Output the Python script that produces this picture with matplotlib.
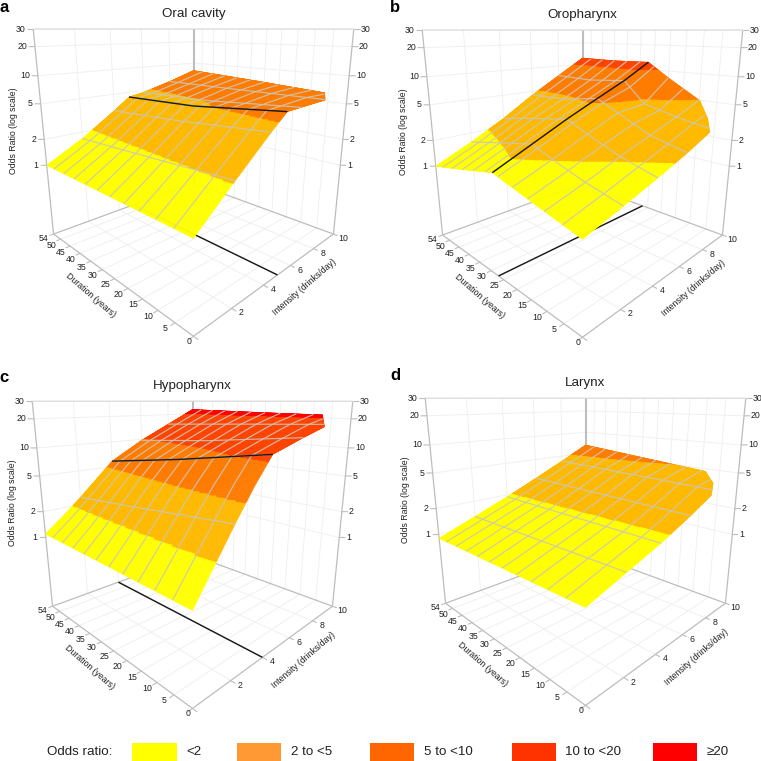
import numpy as np
import matplotlib
matplotlib.use("Agg")
import matplotlib.pyplot as plt
from matplotlib.patches import Rectangle
from mpl_toolkits.mplot3d import proj3d

plt.rcParams['font.family'] = ['Liberation Sans', 'DejaVu Sans']

# ---- data: odds ratios (rows = intensity, columns = duration)
titles = ["Oral cavity", "Oropharynx", "Hypopharynx", "Larynx"]
letters = ["a", "b", "c", "d"]

int_a = [0, 2, 4, 5, 6, 8, 10]
dur_a = [0, 27, 54]
or_a = [[1.00, 1.00, 1.00],
        [2.10, 1.86, 1.67],
        [4.30, 3.55, 3.12],
        [6.00, 4.73, 4.35],
        [6.10, 5.07, 4.70],
        [6.30, 6.10, 5.96],
        [6.00, 6.92, 7.83]]
cut_int_a = [7.9, 10]
cut_dur_a = [0, 6]

int_b = [0, 2, 4, 6, 8, 10]
dur_b = [0, 10, 20, 27, 40, 54]
or_b = [[1.00, 1.20, 1.45, 1.66, 1.29, 1.00],
        [1.30, 1.58, 2.04, 2.50, 2.00, 1.56],
        [1.70, 2.14, 2.95, 3.77, 3.16, 2.56],
        [2.28, 2.82, 4.17, 5.50, 4.68, 4.49],
        [3.19, 3.72, 4.57, 7.94, 7.24, 7.43],
        [3.98, 5.00, 8.32, 12.3, 12.0, 12.2]]
cut_int_b = [7.75, 8.8, 10]
cut_dur_b = [0, 3.8, 9.8]

int_c = [0, 1, 2, 3, 4, 6, 8, 10]
dur_c = [0, 27, 54]
or_c = [[1.00, 1.05, 1.10],
        [1.91, 1.74, 1.61],
        [3.63, 2.95, 2.43],
        [6.68, 5.00, 3.77],
        [11.4, 7.94, 5.83],
        [14.6, 11.5, 9.75],
        [18.3, 16.6, 15.0],
        [21.4, 22.1, 23.1]]
cut_int_c = [7.6, 10]
cut_dur_c = [0, 7.5]

int_d = [0, 2, 4, 6, 8, 10]
dur_d = [0, 54]
or_d = [[1.00, 0.90],
        [1.35, 1.30],
        [1.81, 1.89],
        [2.58, 2.82],
        [3.80, 4.26],
        [4.37, 6.56]]
cut_int_d = [7.6, 8.8, 10]
cut_dur_d = [0, 3.2, 9]

# knot lines drawn in black: ("i", value) constant intensity, ("d", value) constant duration
knots = [("i", 5), ("d", 27), ("i", 4), None]

or_ticks = [1, 2, 5, 10, 20, 30]
dur_ticks = [0, 5, 10, 15, 20, 25, 30, 35, 40, 45, 50, 54]
int_ticks = [0, 2, 4, 6, 8, 10]
mesh_dur = [5, 10, 15, 20, 25, 30, 35, 40, 45, 50]
mesh_int = [2, 4, 6, 8]
or_min = 0.14

band_edges = [2, 5, 10, 20]
surf_colors = ["#FFFF00", "#FFBA00", "#FF7C00", "#FF4400", "#FF0000"]
leg_colors = ["#FFFF00", "#FF9933", "#FF6600", "#FF3300", "#FF0000"]
leg_labels = ["<2", "2 to <5", "5 to <10", "10 to <20", "\u226520"]

# ---- layout (pixels of the 761 px figure)
SIZE = 761
centers = [(193.5, 138.5), (582.5, 139.5), (192.5, 510.7), (585.5, 507.7)]
letter_pos = [(4, 8), (395, 7), (4, 377), (395, 376)]
W = 420.0
GRID = "#F0F0F0"
FRAME = "#BDBDBD"
TEXT = "#222222"

fig = plt.figure(figsize=(SIZE / 100, SIZE / 100), dpi=100, facecolor="white")


def lookup(i, d, I, D, T):
    """Value of the table at intensity i, duration d (piecewise on log scale)."""
    I = np.asarray(I, float)
    D = np.asarray(D, float)
    L = np.log10(np.asarray(T, float))
    i = np.asarray(i, float)
    d = np.asarray(d, float)
    ki = np.clip(np.searchsorted(I, i, side="right") - 1, 0, len(I) - 2)
    kd = np.clip(np.searchsorted(D, d, side="right") - 1, 0, len(D) - 2)
    u = (i - I[ki]) / (I[ki + 1] - I[ki])
    v = (d - D[kd]) / (D[kd + 1] - D[kd])
    return ((1 - u) * (1 - v) * L[ki, kd] + u * (1 - v) * L[ki + 1, kd]
            + (1 - u) * v * L[ki, kd + 1] + u * v * L[ki + 1, kd + 1])


def panel(n, I, D, T, cut_i, cut_d):
    cx, cy = centers[n]
    rect = [(cx - 0.5135 * W) / SIZE, (SIZE - (cy + 0.5135 * W)) / SIZE, W / SIZE, W / SIZE]
    ax = fig.add_axes(rect, projection="3d", computed_zorder=False)
    ax.set_axis_off()
    ax.patch.set_visible(False)
    ax.view_init(elev=15.1, azim=-135)
    ax.set_box_aspect((1, 1, 1), zoom=0.846)
    ax.set_proj_type("persp", focal_length=0.179)
    zlo, zhi = np.log10(or_min), np.log10(30)

    def limits():
        ax.set_xlim(0, 10, view_margin=0)
        ax.set_ylim(0, 54, view_margin=0)
        ax.set_zlim(zlo, zhi, view_margin=0)
    limits()

    def seg(xs, ys, zs, **kw):
        ax.plot(xs, ys, zs, solid_capstyle="butt", **kw)

    # walls and floor grid
    gk = dict(color=GRID, lw=0.7, zorder=1)
    for o in or_ticks:
        z = np.log10(o)
        seg([0, 10], [54, 54], [z, z], **gk)
        seg([10, 10], [54, 0], [z, z], **gk)
    for t in int_ticks[1:-1]:
        seg([t, t], [54, 54], [zlo, zhi], **gk)
        seg([t, t], [0, 54], [zlo, zlo], **gk)
    for t in dur_ticks[1:-1]:
        seg([10, 10], [t, t], [zlo, zhi], **gk)
        seg([0, 10], [t, t], [zlo, zlo], **gk)

    # frame
    fk = dict(color=FRAME, lw=0.9, zorder=2)
    seg([0, 0], [54, 54], [zlo, zhi], **fk)
    seg([10, 10], [0, 0], [zlo, zhi], **fk)
    seg([10, 10], [54, 54], [zlo, zhi], color=FRAME, lw=1.5, zorder=2)
    seg([0, 10], [54, 54], [zhi, zhi], color="#DDDDDD", lw=0.9, zorder=2)
    seg([10, 10], [54, 0], [zhi, zhi], color="#DDDDDD", lw=0.9, zorder=2)
    seg([0, 10], [54, 54], [zlo, zlo], **fk)
    seg([10, 10], [54, 0], [zlo, zlo], **fk)
    seg([0, 0], [0, 54], [zlo, zlo], **fk)
    seg([0, 10], [0, 0], [zlo, zlo], **fk)

    # ticks
    for t in dur_ticks:
        seg([0, -0.22], [t, t], [zlo, zlo], color=FRAME, lw=0.8, zorder=2)
    for t in int_ticks:
        seg([t, t], [0, -1.2], [zlo, zlo], color=FRAME, lw=0.8, zorder=2)
    for o in or_ticks:
        z = np.log10(o)
        seg([0, -0.2], [54, 55.1], [z, z], color=FRAME, lw=0.8, zorder=2)
        seg([10, 10.2], [0, -1.1], [z, z], color=FRAME, lw=0.8, zorder=2)

    knot = knots[n]
    black = dict(color="#1a1a1a", lw=1.05)
    # knot line on the floor, under the surface
    if knot is not None:
        if knot[0] == "i":
            seg([knot[1], knot[1]], [0, 54], [zlo, zlo], zorder=3, **black)
        else:
            seg([0, 10], [knot[1], knot[1]], [zlo, zlo], zorder=3, **black)

    # surface
    fine_i = np.linspace(0, 10, 241)
    s = np.linspace(0, 1, 241)
    dmin = np.interp(fine_i, cut_i, cut_d)
    Xg = np.repeat(fine_i[:, None], s.size, axis=1)
    Yg = dmin[:, None] + s[None, :] * (54 - dmin[:, None])
    Zg = lookup(Xg, Yg, I, D, T)
    mid = 0.25 * (Zg[:-1, :-1] + Zg[1:, :-1] + Zg[:-1, 1:] + Zg[1:, 1:])
    idx = np.digitize(10 ** mid, band_edges)
    rgba = np.array([matplotlib.colors.to_rgba(c) for c in surf_colors])[idx]
    ax.plot_surface(Xg, Yg, Zg, facecolors=rgba, rstride=1, cstride=1, shade=False,
                    linewidth=0.3, antialiased=True, zorder=5)

    # gray mesh on the surface
    mk = dict(color="#C9C6BC", lw=0.85, alpha=0.9, zorder=6)
    for t in mesh_int:
        d0 = float(np.interp(t, cut_i, cut_d))
        dd = np.linspace(d0, 54, 60)
        seg(np.full_like(dd, t), dd, lookup(np.full_like(dd, t), dd, I, D, T), **mk)
    for t in mesh_dur:
        ii = np.linspace(0, 10, 120)
        ii = ii[np.interp(ii, cut_i, cut_d) <= t]
        seg(ii, np.full_like(ii, t), lookup(ii, np.full_like(ii, t), I, D, T), **mk)

    # knot line on the surface
    if knot is not None:
        if knot[0] == "i":
            dd = np.linspace(0, 54, 60)
            seg(np.full_like(dd, knot[1]), dd, lookup(np.full_like(dd, knot[1]), dd, I, D, T),
                zorder=7, **black)
        else:
            ii = np.linspace(0, 10, 60)
            seg(ii, np.full_like(ii, knot[1]), lookup(ii, np.full_like(ii, knot[1]), I, D, T),
                zorder=7, **black)

    limits()
    M = ax.get_proj()

    def label(x, y, z, txt, dx, dy, ha="center"):
        px, py, _ = proj3d.proj_transform(x, y, z, M)
        ax.annotate(txt, xy=(px, py), xytext=(dx * 0.72, dy * 0.72), textcoords="offset points",
                    ha=ha, va="center", fontsize=6.3, color=TEXT, annotation_clip=False, zorder=10)

    for o in or_ticks:
        z = np.log10(o)
        label(0, 54, z, str(o), -8, 0, ha="right")
        label(10, 0, z, str(o), 7, 0, ha="left")
    for t in dur_ticks:
        off = (-4, -5) if t == 0 else ((-10.5, -4) if t == 54 else (-9.5, -6))
        label(0, t, zlo, str(t), *off)
    for t in int_ticks[1:]:
        label(t, 0, zlo, str(t), 9.5, -4.5)


data = [(int_a, dur_a, or_a, cut_int_a, cut_dur_a),
        (int_b, dur_b, or_b, cut_int_b, cut_dur_b),
        (int_c, dur_c, or_c, cut_int_c, cut_dur_c),
        (int_d, dur_d, or_d, cut_int_d, cut_dur_d)]
for n, row in enumerate(data):
    panel(n, *row)

# overlay in pixel coordinates: titles, letters, axis names, legend
ov = fig.add_axes([0, 0, 1, 1], facecolor="none")
ov.set_xlim(0, SIZE)
ov.set_ylim(SIZE, 0)
ov.axis("off")
for n, (cx, cy) in enumerate(centers):
    ov.text(cx, cy - 124.5, titles[n], ha="center", va="center", fontsize=9.6, color=TEXT)
    ov.text(*letter_pos[n], letters[n], ha="center", va="center", fontsize=12, fontweight="bold", color="black")
    ov.text(cx - 102.7, cy + 156.5, "Duration (years)", rotation=-41, ha="center", va="center",
            fontsize=6.3, color=TEXT, rotation_mode="anchor")
    ov.text(cx + 111, cy + 149, "Intensity (drinks/day)", rotation=41, ha="center", va="center",
            fontsize=6.3, color=TEXT, rotation_mode="anchor")
    ov.text(cx - 179.5, cy - 7.6, "Odds Ratio (log scale)", rotation=90, ha="center", va="center",
            fontsize=6.3, color=TEXT)

ov.text(47, 752, "Odds ratio:", ha="left", va="center", fontsize=9.6, color=TEXT)
leg_x = [132, 236.5, 369.5, 511.5, 652.5]
leg_tx = [186, 291, 424, 565, 707]
for c, lab, x0, tx in zip(leg_colors, leg_labels, leg_x, leg_tx):
    ov.add_patch(Rectangle((x0, 743), 44.5, 18, facecolor=c, edgecolor="none"))
    ov.text(tx, 752, lab, ha="left", va="center", fontsize=9.6, color=TEXT)

fig.savefig("out.png", dpi=100)
